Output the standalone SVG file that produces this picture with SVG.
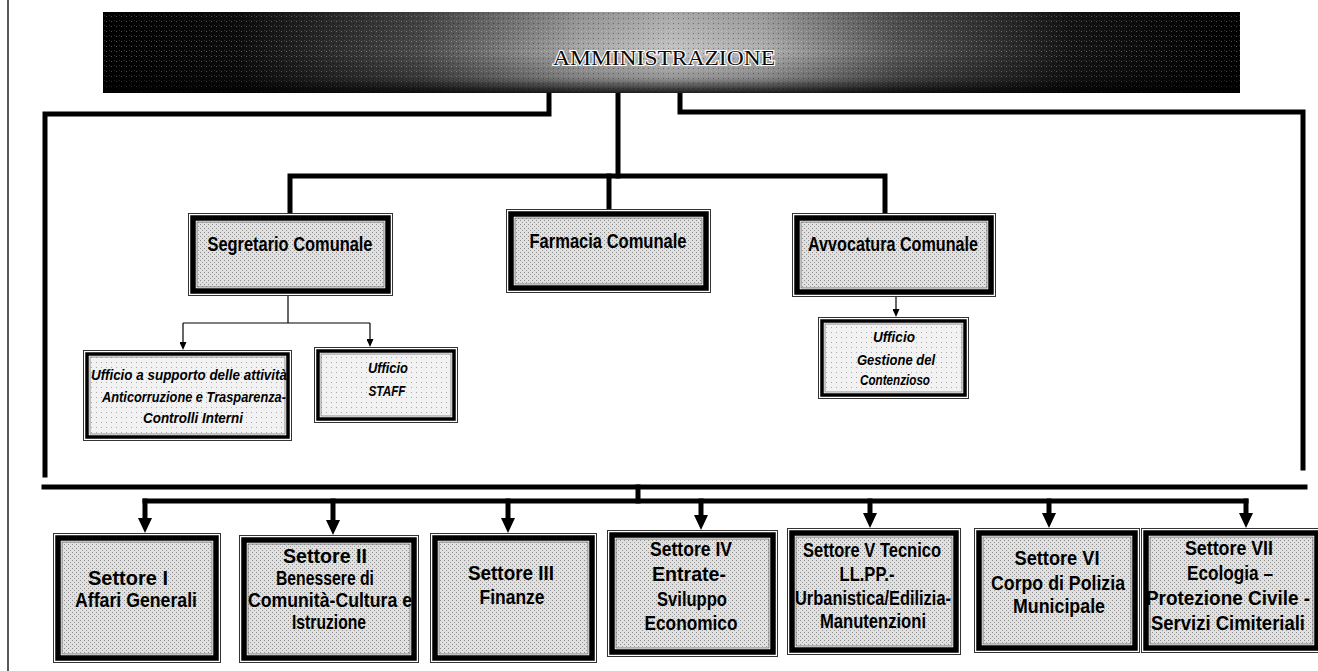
<svg xmlns="http://www.w3.org/2000/svg" width="1318" height="671" viewBox="0 0 1318 671">
<style>
  .bx-outer{fill:none;stroke:#333;stroke-width:1}
  .bx-thick{fill:none;stroke:#000;stroke-width:5.5}
  .bx-inner{fill:url(#tex);stroke:#666;stroke-width:0.8}
  .ub-thick{fill:none;stroke:#000;stroke-width:3.5}
  .ub-inner{fill:url(#tex2);stroke:#777;stroke-width:0.8}
  .t{font-family:"Liberation Sans",Arial,sans-serif;font-weight:bold;fill:#000;text-anchor:middle}
  .tm{font-size:20px}
  .ts{font-size:20px}
  .ti{font-size:15.5px;font-style:italic}
  .wire{fill:none;stroke:#000;stroke-width:5;stroke-linejoin:miter;stroke-linecap:square}
  .thin{fill:none;stroke:#000;stroke-width:1.2}
  .ban{font-family:"Liberation Serif",serif;font-size:20px;fill:#0a0a0a;stroke:#fff;stroke-width:2;paint-order:stroke;text-anchor:middle}
</style>
<defs>
  <linearGradient id="bang" x1="0" y1="0" x2="1" y2="0">
    <stop offset="0" stop-color="#000"/>
    <stop offset="0.12" stop-color="#0d0d0d"/>
    <stop offset="0.28" stop-color="#4a4a4a"/>
    <stop offset="0.42" stop-color="#a8a8a8"/>
    <stop offset="0.5" stop-color="#c4c4c4"/>
    <stop offset="0.58" stop-color="#b0b0b0"/>
    <stop offset="0.7" stop-color="#555"/>
    <stop offset="0.85" stop-color="#151515"/>
    <stop offset="1" stop-color="#000"/>
  </linearGradient>
  <linearGradient id="banv" x1="0" y1="0" x2="0" y2="1">
    <stop offset="0" stop-color="#000" stop-opacity="0.15"/>
    <stop offset="0.5" stop-color="#000" stop-opacity="0"/>
    <stop offset="0.82" stop-color="#000" stop-opacity="0.25"/>
    <stop offset="1" stop-color="#000" stop-opacity="0.85"/>
  </linearGradient>
  <pattern id="noise" width="5" height="5" patternUnits="userSpaceOnUse">
    <rect x="1" y="1" width="1" height="1" fill="#fff" fill-opacity="0.35"/>
    <rect x="3" y="3" width="1" height="1" fill="#000" fill-opacity="0.35"/>
    <rect x="4" y="0" width="1" height="1" fill="#fff" fill-opacity="0.2"/>
  </pattern>
  <pattern id="tex" width="4" height="4" patternUnits="userSpaceOnUse">
    <rect width="4" height="4" fill="#e0e0e0"/>
    <rect x="0" y="0" width="1" height="1" fill="#8a8a8a"/>
    <rect x="2" y="2" width="1" height="1" fill="#9a9a9a"/>
  </pattern>
  <pattern id="tex2" width="5" height="5" patternUnits="userSpaceOnUse">
    <rect width="5" height="5" fill="#f2f2f2"/>
    <rect x="1" y="2" width="1" height="1" fill="#a8a8a8"/>
  </pattern>
  <marker id="ah" viewBox="0 0 15 14" refX="2" refY="7" markerWidth="15" markerHeight="14" markerUnits="userSpaceOnUse" orient="auto">
    <path d="M0,0 L15,7 L0,14 Z" fill="#000"/>
  </marker>
  <marker id="ahs" viewBox="0 0 8 7" refX="1" refY="3.5" markerWidth="8" markerHeight="7" markerUnits="userSpaceOnUse" orient="auto">
    <path d="M0,0 L8,3.5 L0,7 Z" fill="#000"/>
  </marker>
</defs>
<rect width="1318" height="671" fill="#fff"/>
<line x1="8" y1="0" x2="8" y2="671" stroke="#222" stroke-width="1.5"/>

<g id="connectors">
  <polyline class="wire" points="549,93 549,114 45,114 45,475"/>
  <polyline class="wire" points="680,93 680,112 1303,112 1303,468"/>
  <line class="wire" x1="618" y1="93" x2="618" y2="176"/>
  <polyline class="wire" points="290,211 290,176 885,176 885,211"/>
  <line class="wire" x1="609" y1="176" x2="609" y2="207"/>
  <line class="thin" x1="288" y1="296" x2="288" y2="323"/>
  <line class="thin" x1="183" y1="323" x2="370" y2="323"/>
  <line class="thin" x1="183" y1="323" x2="183" y2="343" marker-end="url(#ahs)"/>
  <line class="thin" x1="370" y1="323" x2="370" y2="340" marker-end="url(#ahs)"/>
  <line class="thin" x1="896" y1="297" x2="896" y2="310" marker-end="url(#ahs)"/>
  <line class="wire" x1="44" y1="487" x2="1305" y2="487" stroke-width="6"/>
  <line class="wire" x1="638" y1="487" x2="638" y2="501"/>
  <line class="wire" x1="145" y1="501" x2="1246" y2="501"/>
  <line class="wire" stroke-linecap="butt" x1="145" y1="501" x2="145" y2="520" marker-end="url(#ah)"/>
  <line class="wire" stroke-linecap="butt" x1="333" y1="501" x2="333" y2="522" marker-end="url(#ah)"/>
  <line class="wire" stroke-linecap="butt" x1="508" y1="501" x2="508" y2="520" marker-end="url(#ah)"/>
  <line class="wire" stroke-linecap="butt" x1="701" y1="501" x2="701" y2="517" marker-end="url(#ah)"/>
  <line class="wire" stroke-linecap="butt" x1="870" y1="501" x2="870" y2="515" marker-end="url(#ah)"/>
  <line class="wire" stroke-linecap="butt" x1="1049" y1="501" x2="1049" y2="515" marker-end="url(#ah)"/>
  <line class="wire" stroke-linecap="butt" x1="1246" y1="501" x2="1246" y2="515" marker-end="url(#ah)"/>
</g>

<g id="amministrazione">
  <rect x="103" y="12" width="1137" height="81" fill="url(#bang)"/>
  <rect x="103" y="12" width="1137" height="81" fill="url(#noise)"/>
  <rect x="103" y="12" width="1137" height="81" fill="url(#banv)"/>
  <text class="ban" x="664" y="65" textLength="222" lengthAdjust="spacingAndGlyphs">AMMINISTRAZIONE</text>
</g>

<g id="segretario">
  <rect class="bx-outer" x="188.5" y="213.5" width="204" height="82"/>
  <rect class="bx-inner" x="197" y="222" width="187" height="65"/>
  <rect class="bx-thick" x="193" y="218" width="195" height="73"/>
  <text class="t tm" x="290" y="251" textLength="165" lengthAdjust="spacingAndGlyphs">Segretario Comunale</text>
</g>

<g id="farmacia">
  <rect class="bx-outer" x="506.5" y="209.5" width="204" height="83"/>
  <rect class="bx-inner" x="515" y="218" width="187" height="66"/>
  <rect class="bx-thick" x="511" y="214" width="195" height="74"/>
  <text class="t tm" x="608" y="248" textLength="157" lengthAdjust="spacingAndGlyphs">Farmacia Comunale</text>
</g>

<g id="avvocatura">
  <rect class="bx-outer" x="792.5" y="213.5" width="203" height="83"/>
  <rect class="bx-inner" x="801" y="222" width="186" height="66"/>
  <rect class="bx-thick" x="797" y="218" width="194" height="74"/>
  <text class="t tm" x="893" y="251" textLength="170" lengthAdjust="spacingAndGlyphs">Avvocatura Comunale</text>
</g>

<g id="ufficio-anticorruzione">
  <rect class="bx-outer" x="83.5" y="350.5" width="208" height="90"/>
  <rect class="ub-inner" x="90" y="357" width="195" height="77"/>
  <rect class="ub-thick" x="87" y="354" width="201" height="83"/>
  <text class="t ti" x="189" y="380" textLength="196" lengthAdjust="spacingAndGlyphs">Ufficio a supporto  delle attività</text>
  <text class="t ti" x="194" y="402" textLength="184" lengthAdjust="spacingAndGlyphs">Anticorruzione  e Trasparenza-</text>
  <text class="t ti" x="193" y="423" textLength="100" lengthAdjust="spacingAndGlyphs">Controlli  Interni</text>
</g>

<g id="ufficio-staff">
  <rect class="bx-outer" x="314.5" y="347.5" width="143" height="75"/>
  <rect class="ub-inner" x="321" y="354" width="130" height="62"/>
  <rect class="ub-thick" x="318" y="351" width="136" height="68"/>
  <text class="t ti" x="388" y="373" textLength="40" lengthAdjust="spacingAndGlyphs">Ufficio</text>
  <text class="t ti" x="387" y="396" textLength="37" lengthAdjust="spacingAndGlyphs">STAFF</text>
</g>

<g id="ufficio-contenzioso">
  <rect class="bx-outer" x="818.5" y="317.5" width="150" height="81"/>
  <rect class="ub-inner" x="825" y="324" width="137" height="68"/>
  <rect class="ub-thick" x="822" y="321" width="143" height="74"/>
  <text class="t ti" x="894" y="342" textLength="42" lengthAdjust="spacingAndGlyphs">Ufficio</text>
  <text class="t ti" x="896" y="365" textLength="78" lengthAdjust="spacingAndGlyphs">Gestione  del</text>
  <text class="t ti" x="895" y="385" textLength="70" lengthAdjust="spacingAndGlyphs">Contenzioso</text>
</g>

<g id="settore-1">
  <rect class="bx-outer" x="53.5" y="533.5" width="167" height="129"/>
  <rect class="bx-inner" x="62" y="542" width="150" height="112"/>
  <rect class="bx-thick" x="58" y="538" width="158" height="120"/>
  <text class="t ts" x="128" y="585" textLength="80" lengthAdjust="spacingAndGlyphs">Settore I</text>
  <text class="t ts" x="136" y="607" textLength="122" lengthAdjust="spacingAndGlyphs">Affari Generali</text>
</g>

<g id="settore-2">
  <rect class="bx-outer" x="239.5" y="535.5" width="179" height="127"/>
  <rect class="bx-inner" x="248" y="544" width="162" height="110"/>
  <rect class="bx-thick" x="244" y="540" width="170" height="118"/>
  <text class="t ts" x="325" y="563" textLength="84" lengthAdjust="spacingAndGlyphs">Settore II</text>
  <text class="t ts" x="325" y="585" textLength="98" lengthAdjust="spacingAndGlyphs">Benessere di</text>
  <text class="t ts" x="330" y="607" textLength="164" lengthAdjust="spacingAndGlyphs">Comunità-Cultura e</text>
  <text class="t ts" x="329" y="629" textLength="74" lengthAdjust="spacingAndGlyphs">Istruzione</text>
</g>

<g id="settore-3">
  <rect class="bx-outer" x="430.5" y="533.5" width="166" height="129"/>
  <rect class="bx-inner" x="439" y="542" width="149" height="112"/>
  <rect class="bx-thick" x="435" y="538" width="157" height="120"/>
  <text class="t ts" x="511" y="580" textLength="86" lengthAdjust="spacingAndGlyphs">Settore III</text>
  <text class="t ts" x="512" y="604" textLength="65" lengthAdjust="spacingAndGlyphs">Finanze</text>
</g>

<g id="settore-4">
  <rect class="bx-outer" x="607.5" y="530.5" width="170" height="126"/>
  <rect class="bx-inner" x="616" y="539" width="153" height="109"/>
  <rect class="bx-thick" x="612" y="535" width="161" height="117"/>
  <text class="t ts" x="691" y="556" textLength="82" lengthAdjust="spacingAndGlyphs">Settore IV</text>
  <text class="t ts" x="689" y="581" textLength="74" lengthAdjust="spacingAndGlyphs">Entrate-</text>
  <text class="t ts" x="692" y="606" textLength="70" lengthAdjust="spacingAndGlyphs">Sviluppo</text>
  <text class="t ts" x="691" y="630" textLength="93" lengthAdjust="spacingAndGlyphs">Economico</text>
</g>

<g id="settore-5">
  <rect class="bx-outer" x="787.5" y="528.5" width="173" height="126"/>
  <rect class="bx-inner" x="796" y="537" width="156" height="109"/>
  <rect class="bx-thick" x="792" y="533" width="164" height="117"/>
  <text class="t ts" x="872" y="557" textLength="138" lengthAdjust="spacingAndGlyphs">Settore V Tecnico</text>
  <text class="t ts" x="867" y="581" textLength="55" lengthAdjust="spacingAndGlyphs">LL.PP.-</text>
  <text class="t ts" x="873" y="605" textLength="156" lengthAdjust="spacingAndGlyphs">Urbanistica/Edilizia-</text>
  <text class="t ts" x="873" y="628" textLength="106" lengthAdjust="spacingAndGlyphs">Manutenzioni</text>
</g>

<g id="settore-6">
  <rect class="bx-outer" x="974.5" y="528.5" width="165" height="124"/>
  <rect class="bx-inner" x="983" y="537" width="148" height="107"/>
  <rect class="bx-thick" x="979" y="533" width="156" height="115"/>
  <text class="t ts" x="1057" y="565" textLength="85" lengthAdjust="spacingAndGlyphs">Settore VI</text>
  <text class="t ts" x="1058" y="590" textLength="134" lengthAdjust="spacingAndGlyphs">Corpo di Polizia</text>
  <text class="t ts" x="1059" y="613" textLength="92" lengthAdjust="spacingAndGlyphs">Municipale</text>
</g>

<g id="settore-7">
  <rect class="bx-outer" x="1141.5" y="528.5" width="180" height="124"/>
  <rect class="bx-inner" x="1150" y="537" width="163" height="107"/>
  <rect class="bx-thick" x="1146" y="533" width="171" height="115"/>
  <text class="t ts" x="1229" y="555" textLength="88" lengthAdjust="spacingAndGlyphs">Settore VII</text>
  <text class="t ts" x="1230" y="580" textLength="86" lengthAdjust="spacingAndGlyphs">Ecologia –</text>
  <text class="t ts" x="1228" y="605" textLength="164" lengthAdjust="spacingAndGlyphs">Protezione Civile -</text>
  <text class="t ts" x="1228" y="630" textLength="154" lengthAdjust="spacingAndGlyphs">Servizi Cimiteriali</text>
</g>
</svg>
